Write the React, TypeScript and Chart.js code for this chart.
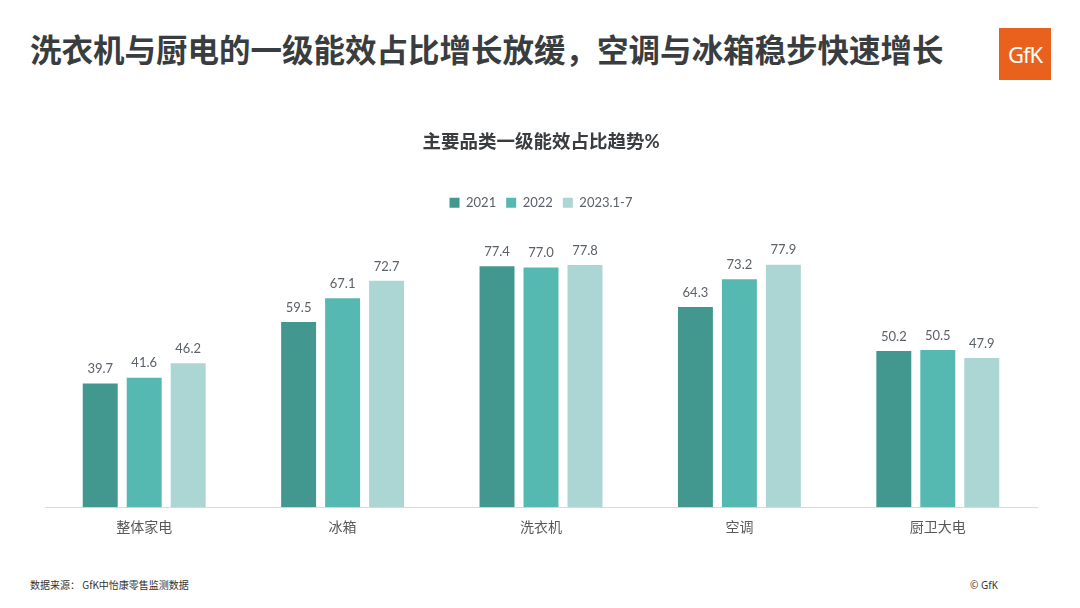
import React, { useEffect, useRef } from "react";
import { Chart, registerables } from "chart.js";

Chart.register(...registerables);

const categories = ["整体家电", "冰箱", "洗衣机", "空调", "厨卫大电"];
const seriesNames = ["2021", "2022", "2023.1-7"];
const values2021 = [39.7, 59.5, 77.4, 64.3, 50.2];
const values2022 = [41.6, 67.1, 77.0, 73.2, 50.5];
const values2023 = [46.2, 72.7, 77.8, 77.9, 47.9];
const colors = ["#42988f", "#55b8b1", "#abd6d3"];

const FONT = "Lato, 'Noto Sans CJK SC', 'Noto Sans', sans-serif";

const labelPlugin = {
  id: "barLabels",
  afterDatasetsDraw(chart: any) {
    const ctx = chart.ctx;
    ctx.save();
    ctx.font = `13px ${FONT}`;
    ctx.fillStyle = "#5b6169";
    ctx.textAlign = "center";
    ctx.textBaseline = "bottom";
    chart.data.datasets.forEach((ds: any, i: number) => {
      const meta = chart.getDatasetMeta(i);
      meta.data.forEach((bar: any, j: number) => {
        ctx.fillText(Number(ds.data[j]).toFixed(1), bar.x, bar.y - 8);
      });
    });
    ctx.restore();
  },
};

export default function App() {
  const ref = useRef<HTMLCanvasElement>(null);
  useEffect(() => {
    if (!ref.current) return;
    const chart = new Chart(ref.current, {
      type: "bar",
      data: {
        labels: categories,
        datasets: [values2021, values2022, values2023].map((d, i) => ({
          label: seriesNames[i],
          data: d,
          backgroundColor: colors[i],
          categoryPercentage: 0.665,
          barPercentage: 0.795,
        })),
      },
      options: {
        responsive: false,
        animation: false,
        layout: { padding: { left: 45, right: 43, top: 0, bottom: 2 } },
        plugins: {
          title: {
            display: true,
            text: "主要品类一级能效占比趋势%",
            color: "#3a3d40",
            font: { family: FONT, size: 18.5, weight: "bold" },
            padding: { top: 11, bottom: 33 },
          },
          legend: {
            display: true,
            position: "top",
            labels: {
              boxWidth: 10,
              boxHeight: 10,
              color: "#5b6169",
              font: { family: FONT, size: 13 },
              padding: 10,
            },
          },
          tooltip: { enabled: false },
        },
        scales: {
          x: {
            grid: { display: false, drawTicks: false },
            border: { display: true, color: "#d9d9d9", width: 1 },
            ticks: { color: "#595959", font: { family: FONT, size: 14 }, padding: 12 },
          },
          y: {
            display: false,
            min: 0,
            max: 92.5,
          },
        },
      },
      plugins: [labelPlugin],
    });
    return () => chart.destroy();
  }, []);

  return (
    <div
      style={{
        position: "fixed",
        left: 0,
        top: 0,
        width: 1080,
        height: 608,
        background: "#ffffff",
        fontFamily: FONT,
        overflow: "hidden",
      }}
    >
      <div
        style={{
          position: "absolute",
          left: 30,
          top: 28,
          fontSize: 31.5,
          fontWeight: "bold",
          color: "#3a3d40",
          lineHeight: "40px",
          fontFamily: "'Noto Sans CJK SC', sans-serif",
          whiteSpace: "nowrap",
        }}
      >
        洗衣机与厨电的一级能效占比增长放缓，空调与冰箱稳步快速增长
      </div>
      <div
        style={{
          position: "absolute",
          left: 999,
          top: 28,
          width: 52,
          height: 52,
          background: "#e8621e",
          color: "#ffffff",
          fontFamily: "'Noto Sans', sans-serif",
          fontSize: 22,
          lineHeight: "52px",
          textAlign: "center",
          letterSpacing: -1,
        }}
      >
        GfK
      </div>
      <canvas
        ref={ref}
        width={1080}
        height={430}
        style={{ position: "absolute", left: 0, top: 120, width: 1080, height: 430 }}
      />
      <div
        style={{
          position: "absolute",
          left: 30,
          top: 577,
          fontSize: 10,
          color: "#333333",
          fontFamily: "'Noto Sans CJK SC', sans-serif",
          lineHeight: "16px",
          whiteSpace: "nowrap",
        }}
      >
        数据来源：&nbsp;GfK中怡康零售监测数据
      </div>
      <div
        style={{
          position: "absolute",
          left: 970,
          top: 577,
          fontSize: 10,
          color: "#333333",
          fontFamily: "'Noto Sans', sans-serif",
          lineHeight: "16px",
          whiteSpace: "nowrap",
        }}
      >
        © GfK
      </div>
    </div>
  );
}
